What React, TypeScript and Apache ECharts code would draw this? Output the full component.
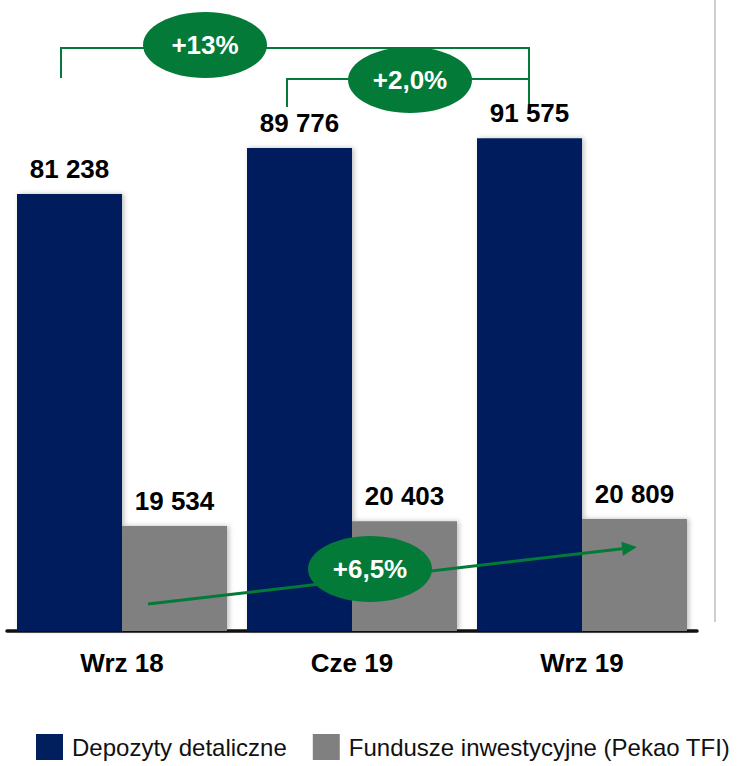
import React, { useEffect, useRef } from "react";
import * as echarts from "echarts";

const categories = ["Wrz 18", "Cze 19", "Wrz 19"];
const depozyty = [81238, 89776, 91575];
const fundusze = [19534, 20403, 20809];
const seriesNames = ["Depozyty detaliczne", "Fundusze inwestycyjne (Pekao TFI)"];
const growthLabels = ["+13%", "+2,0%", "+6,5%"];

const GREEN = "#037A38";
const NAVY = "#001F5C";
const GREY = "#808080";
const FONT = "'Liberation Sans', Arial, Helvetica, sans-serif";

const fmt = (v: number) => String(v).replace(/\B(?=(\d{3})+(?!\d))/g, " ");

export default function App() {
  const ref = useRef<HTMLDivElement>(null);
  useEffect(() => {
    if (!ref.current) return;
    const chart = echarts.init(ref.current, undefined, { renderer: "svg" });

    // arrow geometry
    const sx = 148, sy = 604, tx = 637, ty = 547;
    const dx = tx - sx, dy = ty - sy;
    const len = Math.sqrt(dx * dx + dy * dy);
    const ux = dx / len, uy = dy / len;
    const hl = 15, hw = 7;
    const bx = tx - hl * ux, by = ty - hl * uy;
    const nx = -uy, ny = ux;

    const ellipse = (cx: number, cy: number, text: string) => [
      {
        type: "ellipse",
        shape: { cx, cy, rx: 62, ry: 33 },
        style: { fill: GREEN },
        z: 102,
      },
      {
        type: "text",
        x: cx,
        y: cy,
        z: 103,
        style: {
          text,
          fill: "#fff",
          font: `bold 26px ${FONT}`,
          textAlign: "center",
          textVerticalAlign: "middle",
        },
      },
    ];
    const ln = (x1: number, y1: number, x2: number, y2: number, w = 2) => ({
      type: "line",
      z: 100,
      shape: { x1, y1, x2, y2 },
      style: { stroke: GREEN, lineWidth: w },
    });

    chart.setOption({
      animation: false,
      backgroundColor: "#fff",
      grid: { left: 7, right: 41, top: 93, bottom: 135, containLabel: false },
      legend: {
        left: 31,
        top: 729,
        icon: "rect",
        itemWidth: 27,
        itemHeight: 26,
        itemGap: 26,
        textStyle: { fontFamily: FONT, fontSize: 24, color: "#111", padding: [0, 0, 0, 4] },
        data: seriesNames,
      },
      xAxis: {
        type: "category",
        data: categories,
        axisLine: { show: true, lineStyle: { color: "#111", width: 3.5 } },
        axisTick: { show: false },
        axisLabel: { fontFamily: FONT, fontSize: 26, fontWeight: "bold", color: "#000", margin: 19 },
      },
      yAxis: { type: "value", min: 0, max: 100000, show: false, splitLine: { show: false } },
      series: [
        {
          name: seriesNames[0],
          type: "bar",
          data: depozyty,
          barWidth: 105,
          barGap: "0%",
          itemStyle: { color: NAVY, shadowBlur: 5, shadowColor: "rgba(0,0,0,0.25)", shadowOffsetX: 2 },
          label: {
            show: true,
            position: "top",
            distance: 12,
            formatter: (p: any) => fmt(p.value),
            fontFamily: FONT,
            fontSize: 26,
            fontWeight: "bold",
            color: "#000",
          },
        },
        {
          name: seriesNames[1],
          type: "bar",
          data: fundusze,
          barWidth: 105,
          barGap: "0%",
          itemStyle: { color: GREY, shadowBlur: 5, shadowColor: "rgba(0,0,0,0.25)", shadowOffsetX: 2 },
          label: {
            show: true,
            position: "top",
            distance: 12,
            formatter: (p: any) => fmt(p.value),
            fontFamily: FONT,
            fontSize: 26,
            fontWeight: "bold",
            color: "#000",
          },
        },
      ],
      graphic: [
        {
          type: "line",
          z: 50,
          shape: { x1: 715, y1: 0, x2: 715, y2: 622 },
          style: { stroke: "#cfcfcf", lineWidth: 2 },
        },
        // outer bracket (+13%)
        ln(61, 48, 529, 48),
        ln(61, 47, 61, 78),
        ln(529, 47, 529, 104),
        // inner bracket (+2,0%)
        ln(287, 79, 529, 79),
        ln(287, 78, 287, 107),
        ...ellipse(205, 45, growthLabels[0]),
        ...ellipse(410, 80, growthLabels[1]),
        // arrow (+6,5%)
        {
          type: "line",
          z: 100,
          shape: { x1: sx, y1: sy, x2: bx, y2: by },
          style: { stroke: GREEN, lineWidth: 3 },
        },
        {
          type: "polygon",
          z: 100,
          shape: {
            points: [
              [tx, ty],
              [bx + hw * nx, by + hw * ny],
              [bx - hw * nx, by - hw * ny],
            ],
          },
          style: { fill: GREEN },
        },
        ...ellipse(370, 569, growthLabels[2]),
      ],
    });
    return () => chart.dispose();
  }, []);
  return (
    <div
      ref={ref}
      style={{ position: "absolute", left: 0, top: 0, width: 738, height: 766 }}
    />
  );
}
